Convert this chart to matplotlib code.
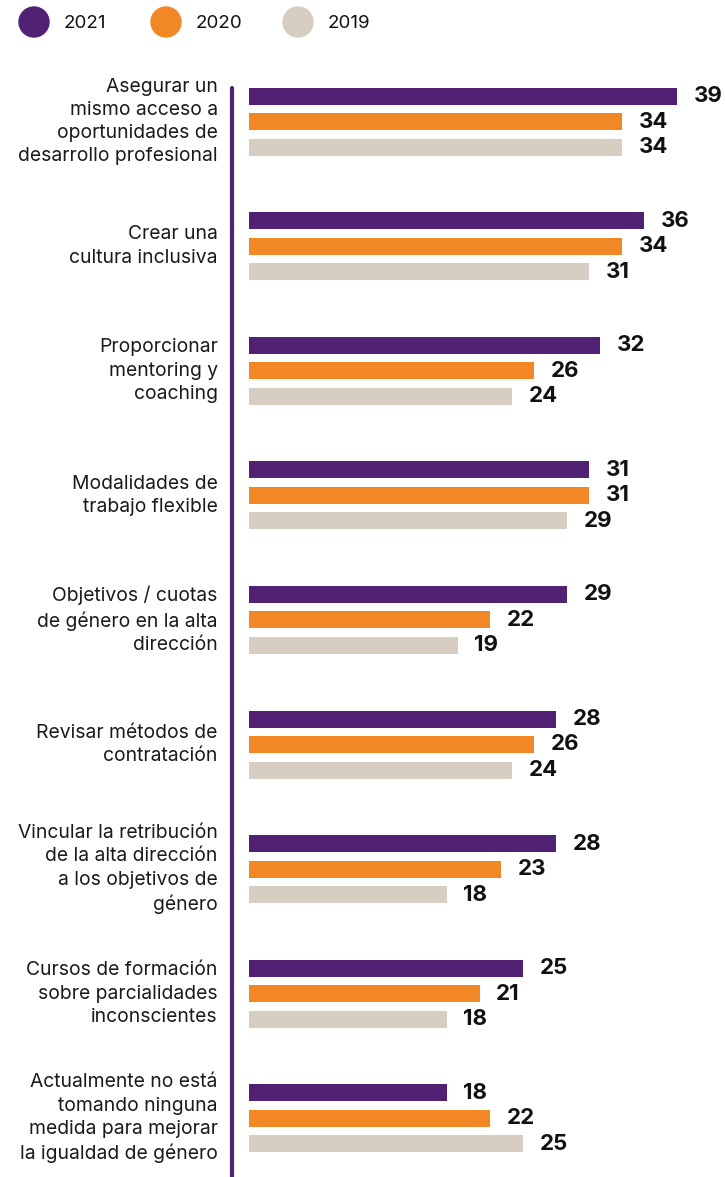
import matplotlib.pyplot as plt
from matplotlib.patches import Circle

plt.rcParams['font.family'] = ['Inter', 'DejaVu Sans']

categorias = [
    "Asegurar un\nmismo acceso a\noportunidades de\ndesarrollo profesional",
    "Crear una\ncultura inclusiva",
    "Proporcionar\nmentoring y\ncoaching",
    "Modalidades de\ntrabajo flexible",
    "Objetivos / cuotas\nde género en la alta\ndirección",
    "Revisar métodos de\ncontratación",
    "Vincular la retribución\nde la alta dirección\na los objetivos de\ngénero",
    "Cursos de formación\nsobre parcialidades\ninconscientes",
    "Actualmente no está\ntomando ninguna\nmedida para mejorar\nla igualdad de género",
]
anios = ["2021", "2020", "2019"]
v2021 = [39, 36, 32, 31, 29, 28, 28, 25, 18]
v2020 = [34, 34, 26, 31, 22, 26, 23, 21, 22]
v2019 = [34, 31, 24, 29, 19, 24, 18, 18, 25]
colores = ["#512273", "#F18825", "#D8CDC1"]

W, H = 725, 1177
fig = plt.figure(figsize=(W / 100, H / 100), dpi=100)
ax = fig.add_axes([249 / W, 0, (721 - 249) / W, 1])
ax.set_xlim(0, 43)
ax.set_ylim(H, 0)

paso_grupo = 124.6
paso_barra = 25.5
y0 = 121.5
series = [v2021, v2020, v2019]
for j, (vals, col) in enumerate(zip(series, colores)):
    for i, v in enumerate(vals):
        y = y0 + i * paso_grupo + (j - 1) * paso_barra
        ax.barh(y, v, height=17, color=col)
        ax.annotate(str(v), (v, y), xytext=(12, 0), textcoords='offset points',
                    ha='left', va='center', fontsize=16, fontweight='bold',
                    color='#111111')

for i, cat in enumerate(categorias):
    y = y0 + i * paso_grupo
    ax.annotate(cat, (0, y), xytext=(-22.5, 0), textcoords='offset points',
                ha='right', va='center', fontsize=13.9, color='#1a1a1a',
                linespacing=1.38, annotation_clip=False)

for s in ['top', 'right', 'bottom']:
    ax.spines[s].set_visible(False)
ax.spines['left'].set_position(('outward', 12.2))
ax.spines['left'].set_bounds(88, H + 5)
ax.spines['left'].set_linewidth(3)
ax.spines['left'].set_color('#512273')
ax.spines['left'].set_capstyle('round')
ax.set_xticks([])
ax.set_yticks([])

# leyenda
for k, (anio, col) in enumerate(zip(anios, colores)):
    cx = 34 + k * 132
    fig.add_artist(Circle((cx / 100, (H - 22) / 100), 0.15, color=col,
                          transform=fig.dpi_scale_trans))
    fig.text((cx + 30) / W, 1 - 23 / H, anio, fontsize=13.5, va='center',
             ha='left', color='#111111')

fig.savefig('out.png', dpi=100)
